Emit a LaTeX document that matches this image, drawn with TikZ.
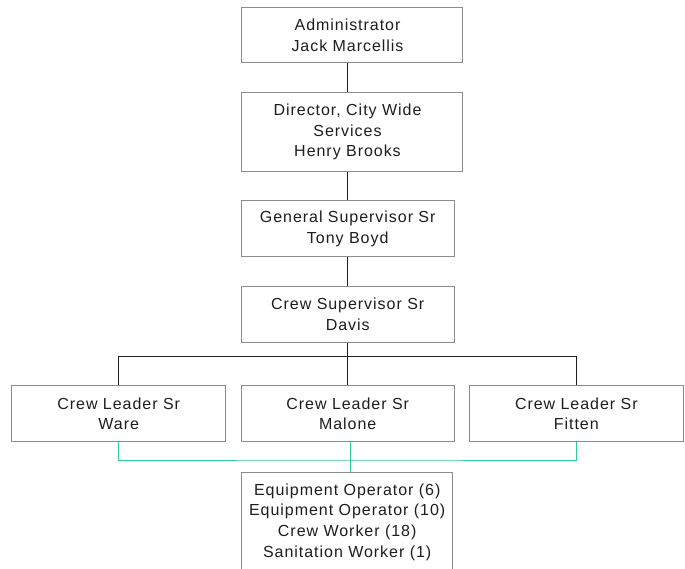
\documentclass[tikz,border=0pt]{standalone}
\usepackage{fontspec}
\setmainfont{Liberation Sans}[LetterSpace=6]
\definecolor{boxgray}{RGB}{140,140,140}
\definecolor{inkgray}{RGB}{30,30,30}
\definecolor{staffgreen}{RGB}{44,204,150}
\newcommand\orgfont{\fontsize{16bp}{20.7bp}\selectfont}
\begin{document}
\begin{tikzpicture}[x=1bp,y=-1bp,
  orgtext/.style={align=center, inner sep=0pt, text=inkgray, font=\orgfont},
  box/.style={draw=boxgray, line width=1bp, fill=white, orgtext},
  link/.style={draw=inkgray, line width=1bp},
  staff/.style={draw=staffgreen, line width=1bp}]
\useasboundingbox (0,0) rectangle (685,569);
\clip (0,0) rectangle (685,569);

% management chain
\node[box, minimum width=220.6bp, minimum height=55bp,
  label={[orgtext, xshift=-4.5bp]center:Administrator\\Jack Marcellis}]
  (admin) at (352,35.5) {};
\node[box, minimum width=220.6bp, minimum height=78bp,
  label={[orgtext, xshift=-4.5bp]center:Director, City Wide\\Services\\Henry Brooks}]
  (director) at (352,132) {};
\node[box, minimum width=213.3bp, minimum height=55.7bp]
  (gensup) at (347.7,228.8) {General Supervisor Sr\\Tony Boyd};
\node[box, minimum width=213.3bp, minimum height=55.6bp]
  (crewsup) at (347.7,314.5) {Crew Supervisor Sr\\Davis};

% crew leaders
\node[box, minimum width=214bp, minimum height=56bp]
  (ware) at (118.7,413.7) {Crew Leader Sr\\Ware};
\node[box, minimum width=213.3bp, minimum height=56bp]
  (malone) at (347.7,413.7) {Crew Leader Sr\\Malone};
\node[box, minimum width=214bp, minimum height=56bp]
  (fitten) at (576.3,413.7) {Crew Leader Sr\\Fitten};

% staff pool (runs past the lower edge)
\node[box, anchor=north, minimum width=211bp, minimum height=130bp,
  label={[orgtext, anchor=north, yshift=-11.6bp]north:Equipment Operator (6)\\Equipment Operator (10)\\Crew Worker (18)\\Sanitation Worker (1)}]
  (crew) at (347.2,471.7) {};

% reporting lines
\draw[link] (admin.south -| gensup.north) -- (director.north -| gensup.north);
\draw[link] (director.south -| gensup.north) -- (gensup.north);
\draw[link] (gensup.south) -- (crewsup.north);
\coordinate (bus) at (347.7,356.5);
\draw[link] (crewsup.south) -- (malone.north);
\draw[link] (ware.north) |- (bus) -| (fitten.north);

% shared staff lines
\coordinate (gbus) at (350.7,460);
\draw[staff] (ware.south) |- (gbus) -| (fitten.south);
\draw[staff] (malone.south -| gbus) -- (crew.north -| gbus);
\end{tikzpicture}
\end{document}
